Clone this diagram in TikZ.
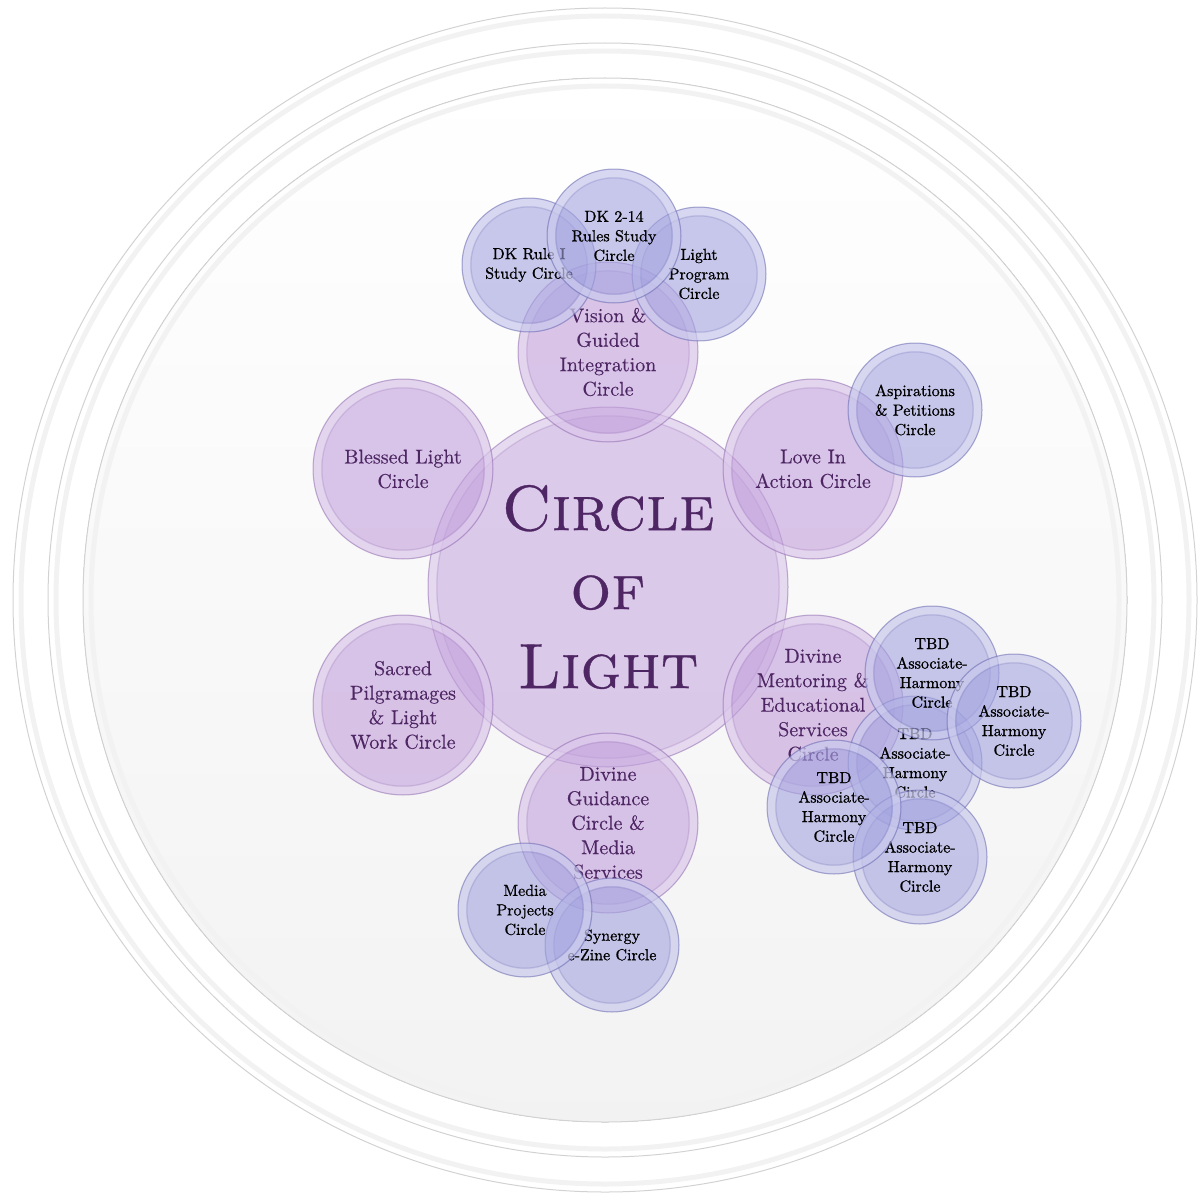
\documentclass[tikz,border=0pt]{standalone}
\usepackage{fontspec}
\usepackage{tikz}

\newfontfamily\hubfont{lmroman10-regular.otf}[FakeBold=0.5, SmallCapsFont=lmromancaps10-regular.otf, SmallCapsFeatures={FakeBold=0.5}]
\newfontfamily\petalfont{lmroman10-regular.otf}[FakeBold=0.4]
\newfontfamily\budfont{lmroman10-regular.otf}[FakeBold=0.9]

\definecolor{hubfill}{RGB}{200,170,224}
\definecolor{petalfill}{RGB}{194,160,220}
\definecolor{petalline}{RGB}{150,118,178}
\definecolor{budfill}{RGB}{163,163,224}
\definecolor{budline}{RGB}{112,112,176}
\definecolor{plum}{RGB}{78,38,100}

\begin{document}
\begin{tikzpicture}[x=0.5pt,y=-0.5pt,
  gloss/.style={fill opacity=0.6, draw opacity=0.55, text opacity=1, circle, inner sep=0pt, align=center, line width=0.5pt},
  hub/.style={gloss, draw=petalline, fill=hubfill, text=plum, minimum size=180pt,
    font=\hubfont\fontsize{32}{39.5}\selectfont\scshape,
    path picture={\draw[white,opacity=.3,line width=3.5pt] (path picture bounding box.center) circle[radius=87.8pt];
                  \draw[petalline,opacity=.25,line width=0.5pt] (path picture bounding box.center) circle[radius=85.5pt];}},
  main/.style={gloss, draw=petalline, fill=petalfill, text=plum, minimum size=90pt,
    font=\petalfont\fontsize{10}{12.25}\selectfont,
    path picture={\draw[white,opacity=.3,line width=3.5pt] (path picture bounding box.center) circle[radius=42.8pt];
                  \draw[petalline,opacity=.25,line width=0.5pt] (path picture bounding box.center) circle[radius=40.5pt];}},
  bud/.style={gloss, draw=budline, fill=budfill, text=black, minimum size=67pt,
    font=\budfont\fontsize{8}{9.75}\selectfont,
    path picture={\draw[white,opacity=.3,line width=3.5pt] (path picture bounding box.center) circle[radius=31.3pt];
                  \draw[budline,opacity=.25,line width=0.5pt] (path picture bounding box.center) circle[radius=29pt];}}]
  \useasboundingbox (0,0) rectangle (1199,1193);

  % rings behind everything
  \coordinate (c) at (605,600);
  \fill[top color=white, middle color=white, bottom color=gray!10] (c) circle[radius=522];
  \foreach \r in {592,557,522} {
    \draw[gray!10, line width=2.5pt] (c) circle[radius=\r-8];
    \draw[gray!35, line width=0.5pt] (c) circle[radius=\r];
  }

  \node[hub] (0) at (608,587) {Circle\\of\\Light};

  \node[main] (1) at (608,352) {Vision \&\\Guided\\Integration\\Circle};
  \node[main] (2) at (813,469) {Love In\\Action Circle};
  \node[main] (3) at (813,705) {Divine\\Mentoring \&\\Educational\\Services\\Circle};
  \node[main] (4) at (608,823) {Divine\\Guidance\\Circle \&\\Media\\Services};
  \node[main] (5) at (403,705) {Sacred\\Pilgramages\\\& Light\\Work Circle};
  \node[main] (6) at (403,469) {Blessed Light\\Circle};

  \node[bud] (7) at (529,265) {DK Rule I\\Study Circle};
  \node[bud] (9) at (699,274) {Light\\Program\\Circle};
  \node[bud] (8) at (614,236) {DK 2-14\\Rules Study\\Circle};
  \node[bud] (10) at (915,410) {Aspirations\\\& Petitions\\Circle};

  \node[bud] (13) at (915,763) {TBD\\Associate-\\Harmony\\Circle};
  \node[bud] (11) at (932,673) {TBD\\Associate-\\Harmony\\Circle};
  \node[bud] (12) at (1014,721) {TBD\\Associate-\\Harmony\\Circle};
  \node[bud] (15) at (920,857) {TBD\\Associate-\\Harmony\\Circle};
  \node[bud] (14) at (834,807) {TBD\\Associate-\\Harmony\\Circle};

  \node[bud] (17) at (612,945) {Synergy\\e-Zine Circle};
  \node[bud] (16) at (525,910) {Media\\Projects\\Circle};
\end{tikzpicture}
\end{document}
